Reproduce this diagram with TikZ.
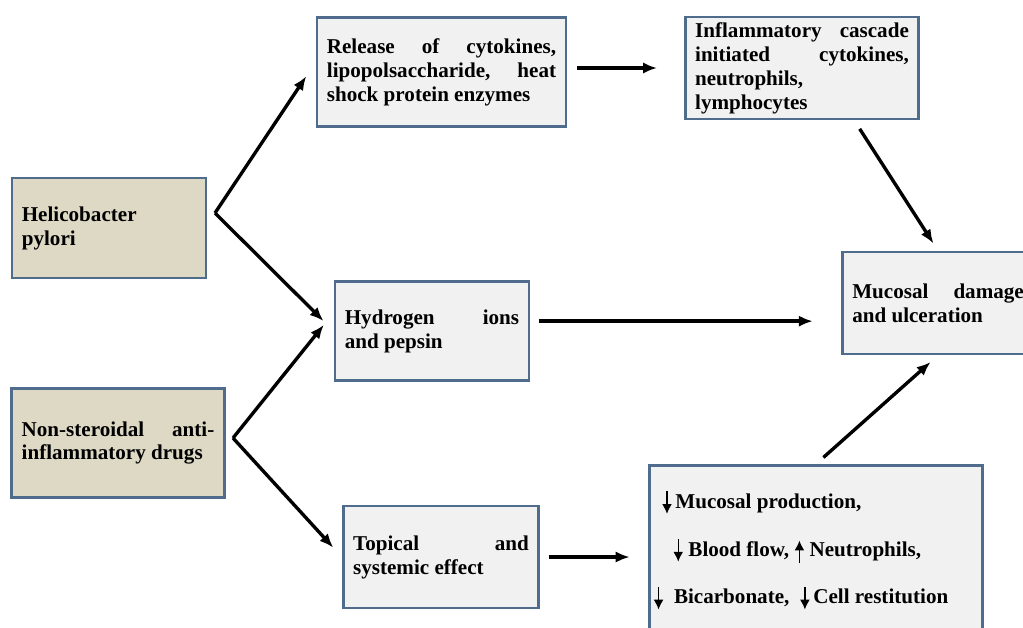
\documentclass[tikz,border=0pt]{standalone}
\usepackage{fontspec}
\setmainfont{Liberation Serif}
\usetikzlibrary{arrows.meta}
\definecolor{boxblue}{RGB}{79,108,140}
\definecolor{boxtan}{RGB}{221,217,196}
\definecolor{boxgray}{RGB}{241,241,242}
% small arrows inside the effects box
\newcommand{\dnarr}{\tikz[baseline=0pt, x=1pt, y=1pt]\draw[line width=0.9pt, -{Latex[length=7pt,width=7pt]}] (0,12) -- (0,-4);}
\newcommand{\uparr}{\tikz[baseline=0pt, x=1pt, y=1pt]\draw[line width=0.9pt, -{Latex[length=7pt,width=7pt]}] (0,-5) -- (0,11);}

\begin{document}
\begin{tikzpicture}[x=0.025cm, y=-0.025cm, >={Latex[length=10pt,width=8pt]},
		box/.style={draw=boxblue, line width=2pt, fill=boxgray, inner xsep=7pt, align=justify, font=\bfseries\fontsize{15}{17}\selectfont},
		causebox/.style={box, fill=boxtan},
		arrow/.style={->, line width=2.4pt}]
		\useasboundingbox (0,0) rectangle (1023,627);
		% causes:
		\node (hp) [causebox, align=left, text width=124pt, minimum height=71pt] at (109,228) {Helicobacter\\ pylori};
		\node (nsaid) [causebox, text width=137pt, minimum height=77.5pt] at (118,443) {Non-steroidal anti-\linebreak inflammatory drugs};
		\coordinate (hpfork) at (215,213);
		\coordinate (nsfork) at (233,438);
		% middle column
		\node (release) [box, text width=163pt, minimum height=78pt] at (441.5,72) {Release of cytokines,\linebreak lipopolsaccharide, heat\linebreak shock protein enzymes};
		\node (hydrogen) [box, text width=124pt, minimum height=70pt] at (432,331) {Hydrogen ions\linebreak and pepsin};
		\node (topical) [box, text width=125pt, minimum height=72.5pt] at (441,557) {Topical and\linebreak systemic effect};
		% right column
		\node (inflam) [box, text width=152pt, minimum height=72.5pt] at (802,68) {Inflammatory cascade\linebreak initiated cytokines,\linebreak neutrophils,\\ lymphocytes};
		\node (mucosal) [box, text width=122pt, minimum height=72.5pt, anchor=west] at (841,303) {Mucosal damage\linebreak and ulceration};
		\node (effects) [box, anchor=north west, inner xsep=3pt, inner ysep=18pt] at (648,464) {\parbox[t][150pt][t]{231pt}{\fontsize{15}{34}\selectfont
			\hspace*{6pt}\dnarr\,Mucosal production,\\
			\hspace*{14pt}\dnarr\ Blood flow, \uparr\ Neutrophils,\\
			\dnarr\ \ Bicarbonate, \ \dnarr\,Cell restitution}};
		% fork arrows
		\draw[arrow, shorten >=12pt] (hpfork) -- ([yshift=7pt]release.west);
		\draw[arrow, shorten >=10pt] (hpfork) -- (hydrogen.west);
		\draw[arrow, shorten >=11pt] (nsfork) -- ([yshift=13pt]hydrogen.west);
		\draw[arrow, shorten >=9pt] (nsfork) -- (topical.west);
		% flow arrows
		\draw[arrow, shorten <=7pt, shorten >=19pt] (release.east |- inflam.west) -- (inflam.west);
		\draw[arrow, shorten <=6pt, shorten >=20pt] ([yshift=7pt]hydrogen.east) -- ([yshift=7pt]hydrogen.east -| mucosal.west);
		\draw[arrow, shorten <=6pt, shorten >=13pt] (topical.east) -- (topical.east -| effects.west);
		\draw[arrow, shorten >=6pt] ([xshift=41pt,yshift=-6pt]inflam.south) -- (mucosal.north);
		\draw[arrow, shorten <=7pt, shorten >=7pt] (effects.north) -- (mucosal.south);
	\end{tikzpicture}
\end{document}
